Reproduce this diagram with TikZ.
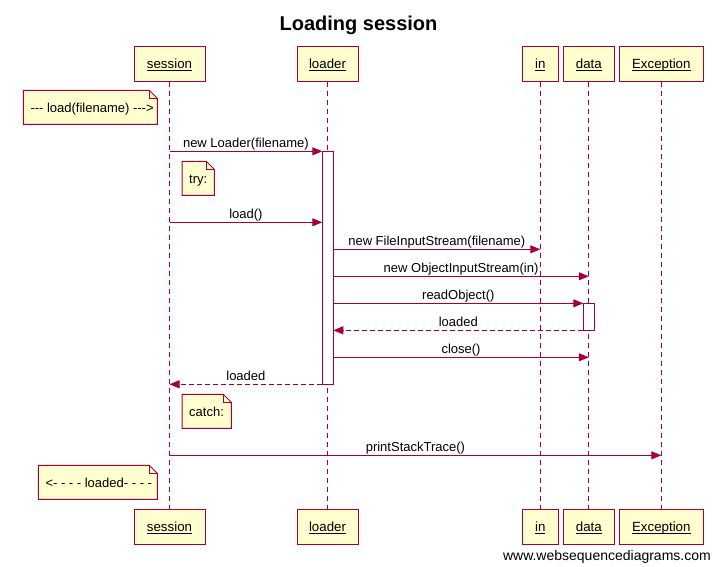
\documentclass[tikz,border=0pt]{standalone}
\usepackage{fontspec}
\setmainfont{Liberation Sans}
\usetikzlibrary{arrows.meta}
\definecolor{umlred}{HTML}{A80036}
\definecolor{umlfill}{HTML}{FEFECE}
\newcommand\pname[1]{\setbox0\hbox{#1}\rlap{\rule[-2.6pt]{\wd0}{0.9pt}}\box0}
\begin{document}
\begin{tikzpicture}[x=1pt,y=-1pt,
  participant/.style={draw=umlred,fill=umlfill,line width=1pt,minimum height=35pt,inner sep=0pt,text height=9.2pt,text depth=0pt,font=\fontsize{13.3}{15}\selectfont},
  lifeline/.style={draw=umlred,line width=1pt,dash pattern=on 5pt off 4pt},
  msg/.style={draw=umlred,line width=1pt,-{Triangle[length=10pt,width=8pt]}},
  retmsg/.style={msg,dash pattern=on 5pt off 3pt},
  lbl/.style={font=\fontsize{13}{15}\selectfont,inner sep=0pt,anchor=base,yshift=3.6pt},
  activation/.style={draw=umlred,fill=white,line width=1pt,minimum width=11pt,inner sep=0pt},
  notebody/.style={draw=umlred,fill=umlfill,line width=1pt,line join=miter},
  notetxt/.style={font=\fontsize{13}{15}\selectfont,inner sep=0pt,anchor=base west}
]
\useasboundingbox (0,0) rectangle (714,566);
\fill[white] (0,0) rectangle (714,566);

% title
\node[font=\bfseries\fontsize{20}{24}\selectfont,inner sep=0pt,anchor=base] (title) at (358.5,30.5) {Loading session};

% participants top
\node[participant,minimum width=71pt] (sT) at (169.5,63.5) {\pname{session}};
\node[participant,minimum width=61pt] (lT) at (327.5,63.5) {\pname{loader}};
\node[participant,minimum width=36pt] (iT) at (540.3,63.5) {\pname{in}};
\node[participant,minimum width=51pt] (dT) at (588.8,63.5) {\pname{data}};
\node[participant,minimum width=84pt] (eT) at (661.3,63.5) {\pname{Exception}};
% participants bottom
\node[participant,minimum width=71pt] (sB) at (169.5,526.8) {\pname{session}};
\node[participant,minimum width=61pt] (lB) at (327.5,526.8) {\pname{loader}};
\node[participant,minimum width=36pt] (iB) at (540.3,526.8) {\pname{in}};
\node[participant,minimum width=51pt] (dB) at (588.8,526.8) {\pname{data}};
\node[participant,minimum width=84pt] (eB) at (661.3,526.8) {\pname{Exception}};

% lifelines
\draw[lifeline] (sT) -- (sB);
\draw[lifeline] (lT) -- (lB);
\draw[lifeline] (iT) -- (iB);
\draw[lifeline] (dT) -- (dB);
\draw[lifeline] (eT) -- (eB);

% activations
\node[activation,minimum height=233pt,anchor=north] (lA) at (327.8,151.3) {};
\node[activation,minimum height=27pt,anchor=north] (dA) at (588.8,303.3) {};

% coordinates on lifelines
\coordinate (s1) at (169.5,151.3);
\coordinate (s2) at (169.5,222.3);
\coordinate (s3) at (169.5,384.3);
\coordinate (s4) at (169.5,455.3);
\coordinate (l1) at (322.3,151.3);
\coordinate (l2) at (322.3,222.3);
\coordinate (l3) at (333.3,249.3);
\coordinate (l4) at (333.3,276.3);
\coordinate (l5) at (333.3,303.3);
\coordinate (l6) at (333.3,330.3);
\coordinate (l7) at (333.3,357.3);
\coordinate (l8) at (322.3,384.3);
\coordinate (i1) at (540.3,249.3);
\coordinate (d1) at (588.8,276.3);
\coordinate (d2) at (583.3,303.3);
\coordinate (d3) at (583.3,330.3);
\coordinate (d4) at (588.8,357.3);
\coordinate (e1) at (661.3,455.3);

% messages
\draw[msg] (s1) -- node[lbl] {new Loader(filename)} (l1);
\draw[msg] (s2) -- node[lbl] {load()} (l2);
\draw[msg] (l3) -- node[lbl] {new FileInputStream(filename)} (i1);
\draw[msg] (l4) -- node[lbl] {new ObjectInputStream(in)} (d1);
\draw[msg] (l5) -- node[lbl] {readObject()} (d2);
\draw[retmsg] (d3) -- node[lbl] {loaded} (l6);
\draw[msg] (l7) -- node[lbl] {close()} (d4);
\draw[retmsg] (l8) -- node[lbl] {loaded} (s3);
\draw[msg] (s4) -- node[lbl] {printStackTrace()} (e1);

% notes
\draw[notebody] (23.3,90.3) -- (149.3,90.3) -- (157.3,98.3) -- (157.3,124.3) -- (23.3,124.3) -- cycle;
\draw[notebody,fill=none] (149.3,90.3) -- (149.3,98.3) -- (157.3,98.3);
\node[notetxt] (n1) at (30.3,112) {-{}-{}- load(filename) -{}-{}->};

\draw[notebody] (182,161.3) -- (206.3,161.3) -- (214.3,169.3) -- (214.3,195.3) -- (182,195.3) -- cycle;
\draw[notebody,fill=none] (206.3,161.3) -- (206.3,169.3) -- (214.3,169.3);
\node[notetxt] (n2) at (189,183) {try:};

\draw[notebody] (182,394.3) -- (223.3,394.3) -- (231.3,402.3) -- (231.3,428.3) -- (182,428.3) -- cycle;
\draw[notebody,fill=none] (223.3,394.3) -- (223.3,402.3) -- (231.3,402.3);
\node[notetxt] (n3) at (189,416) {catch:};

\draw[notebody] (38.3,465.3) -- (149.3,465.3) -- (157.3,473.3) -- (157.3,499.3) -- (38.3,499.3) -- cycle;
\draw[notebody,fill=none] (149.3,465.3) -- (149.3,473.3) -- (157.3,473.3);
\node[notetxt] (n4) at (45.3,487) {<- - - - loaded- - - -};

% footer
\node[font=\fontsize{14}{16}\selectfont,inner sep=0pt,anchor=base east] (url) at (711,560.7) {www.websequencediagrams.com};
\end{tikzpicture}
\end{document}
